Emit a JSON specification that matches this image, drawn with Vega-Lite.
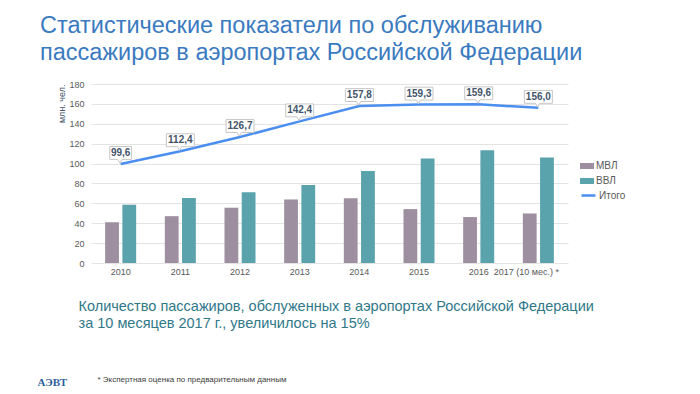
{
  "$schema": "https://vega.github.io/schema/vega-lite/v6.json",
  "width": 477,
  "height": 179,
  "autosize": {"type": "none"},
  "padding": {"left": 91, "top": 84, "right": 132, "bottom": 131},
  "background": "white",
  "config": {
    "view": {"stroke": null},
    "font": "Liberation Sans"
  },
  "title": {
    "text": ["Статистические показатели по обслуживанию", "пассажиров в аэропортах Российской Федерации"],
    "anchor": "start",
    "frame": "group",
    "dx": -51,
    "offset": 16,
    "fontSize": 23.5,
    "lineHeight": 26.5,
    "font": "Liberation Sans",
    "fontWeight": "normal",
    "color": "#3a7abf"
  },
  "data": {
    "values": [
      {"year": "2010", "МВЛ": 41.0, "ВВЛ": 58.6, "total": 99.6, "label": "99,6"},
      {"year": "2011", "МВЛ": 47.1, "ВВЛ": 65.3, "total": 112.4, "label": "112,4"},
      {"year": "2012", "МВЛ": 55.6, "ВВЛ": 71.1, "total": 126.7, "label": "126,7"},
      {"year": "2013", "МВЛ": 63.9, "ВВЛ": 78.5, "total": 142.4, "label": "142,4"},
      {"year": "2014", "МВЛ": 65.2, "ВВЛ": 92.6, "total": 157.8, "label": "157,8"},
      {"year": "2015", "МВЛ": 54.2, "ВВЛ": 105.1, "total": 159.3, "label": "159,3"},
      {"year": "2016", "МВЛ": 46.2, "ВВЛ": 113.4, "total": 159.6, "label": "159,6"},
      {"year": "2017", "МВЛ": 49.8, "ВВЛ": 106.2, "total": 156.0, "label": "156,0"}
    ]
  },
  "layer": [
    {
      "transform": [{"fold": ["МВЛ", "ВВЛ"], "as": ["type", "value"]}],
      "mark": {"type": "bar"},
      "encoding": {
        "x": {
          "field": "year", "type": "nominal",
          "scale": {"paddingInner": 0.48, "paddingOuter": 0.237},
          "axis": {
            "labelAngle": 0, "labelFontSize": 9, "labelColor": "#595959", "labelPadding": 4,
            "domain": false, "ticks": false, "grid": false,
            "labelExpr": "datum.value == '2017' ? '2017  (10 мес.) *' : datum.value",
            "labelOffset": {"condition": {"test": "datum.value == '2017'", "value": -12}, "value": 0},
            "title": ["Количество пассажиров, обслуженных в аэропортах Российской Федерации", "за 10 месяцев 2017 г., увеличилось на 15%"],
            "titleX": -13, "titleY": 47.5, "titleAlign": "left", "titleAnchor": "start",
            "titleBaseline": "alphabetic", "titleFontSize": 14.5, "titleLineHeight": 16.5,
            "titleFont": "Liberation Sans",
            "titleFontWeight": "normal", "titleColor": "#2f7889"
          }
        },
        "xOffset": {"field": "type", "type": "nominal", "sort": ["МВЛ", "ВВЛ"], "scale": {"paddingInner": 0.2}},
        "y": {
          "field": "value", "type": "quantitative",
          "scale": {"domain": [0, 180], "nice": false},
          "axis": {
            "values": [0, 20, 40, 60, 80, 100, 120, 140, 160, 180],
            "labelFontSize": 9, "labelColor": "#595959", "labelPadding": 7,
            "ticks": false, "domain": false, "gridColor": "#e3e3e3",
            "title": "млн. чел.", "titleFontSize": 9, "titleFontWeight": "normal",
            "titleColor": "#44546a", "titleAnchor": "end", "titlePadding": 2
          }
        },
        "fill": {
          "field": "type", "type": "nominal",
          "scale": {"domain": ["МВЛ", "ВВЛ"], "range": ["#9d8f9f", "#5aa2ac"]},
          "legend": {
            "orient": "none", "legendX": 489, "legendY": 75, "title": null,
            "symbolType": "M-1,-0.43H1V0.43H-1Z", "symbolSize": 196, "symbolStrokeWidth": 0,
            "labelFontSize": 10, "labelColor": "#595959", "labelOffset": 2, "rowPadding": 3
          }
        }
      }
    },
    {
      "mark": {"type": "line", "color": "#4a8ef0", "strokeWidth": 2.5},
      "encoding": {
        "x": {
          "field": "year", "type": "nominal",
          "axis": {
            "labels": false, "ticks": false, "domain": false, "grid": false, "orient": "bottom",
            "title": "* Экспертная оценка по предварительным данным",
            "titleX": 6, "titleY": 118, "titleAlign": "left", "titleAnchor": "start",
            "titleBaseline": "alphabetic", "titleFontSize": 8, "titleFontWeight": "normal",
            "titleColor": "#404040"
          }
        },
        "y": {"field": "total", "type": "quantitative", "axis": null},
        "stroke": {
          "datum": "Итого",
          "scale": {"domain": ["Итого"], "range": ["#4a8ef0"]},
          "legend": {
            "orient": "none", "legendX": 489, "legendY": 103, "title": null,
            "symbolType": "stroke", "symbolSize": 196, "symbolStrokeWidth": 2.5,
            "labelFontSize": 10, "labelColor": "#595959", "labelOffset": 2
          }
        }
      }
    },
    {
      "mark": {"type": "point", "filled": true, "fill": "white", "stroke": "#c6c6c6", "strokeWidth": 1, "opacity": 1, "yOffset": -11, "size": 784},
      "encoding": {
        "x": {"field": "year", "type": "nominal", "axis": null},
        "y": {
          "field": "total", "type": "quantitative",
          "axis": {
            "orient": "left", "labels": false, "ticks": false, "domain": false, "grid": false,
            "title": "АЭВТ", "titleAngle": 0, "titleX": -54, "titleY": 301,
            "titleAlign": "left", "titleBaseline": "alphabetic", "titleFont": "Liberation Serif",
            "titleFontSize": 11, "titleFontWeight": "bold", "titleColor": "#2c5f9e"
          }
        },
        "shape": {
          "condition": {"test": "datum.total < 100", "value": "M-0.78,-0.46H0.78V0.46H0.1L-0.05,0.72L-0.2,0.46H-0.78Z"},
          "value": "M-1,-0.46H1V0.46H0.1L-0.05,0.72L-0.2,0.46H-1Z"
        }
      }
    },
    {
      "mark": {"type": "text", "yOffset": -11, "fontSize": 10, "fontWeight": "bold", "color": "#44546a", "baseline": "middle", "font": "Liberation Sans"},
      "encoding": {
        "x": {"field": "year", "type": "nominal", "axis": null},
        "y": {"field": "total", "type": "quantitative", "axis": null},
        "text": {"field": "label"}
      }
    }
  ],
  "resolve": {"axis": {"x": "independent", "y": "independent"}}
}
